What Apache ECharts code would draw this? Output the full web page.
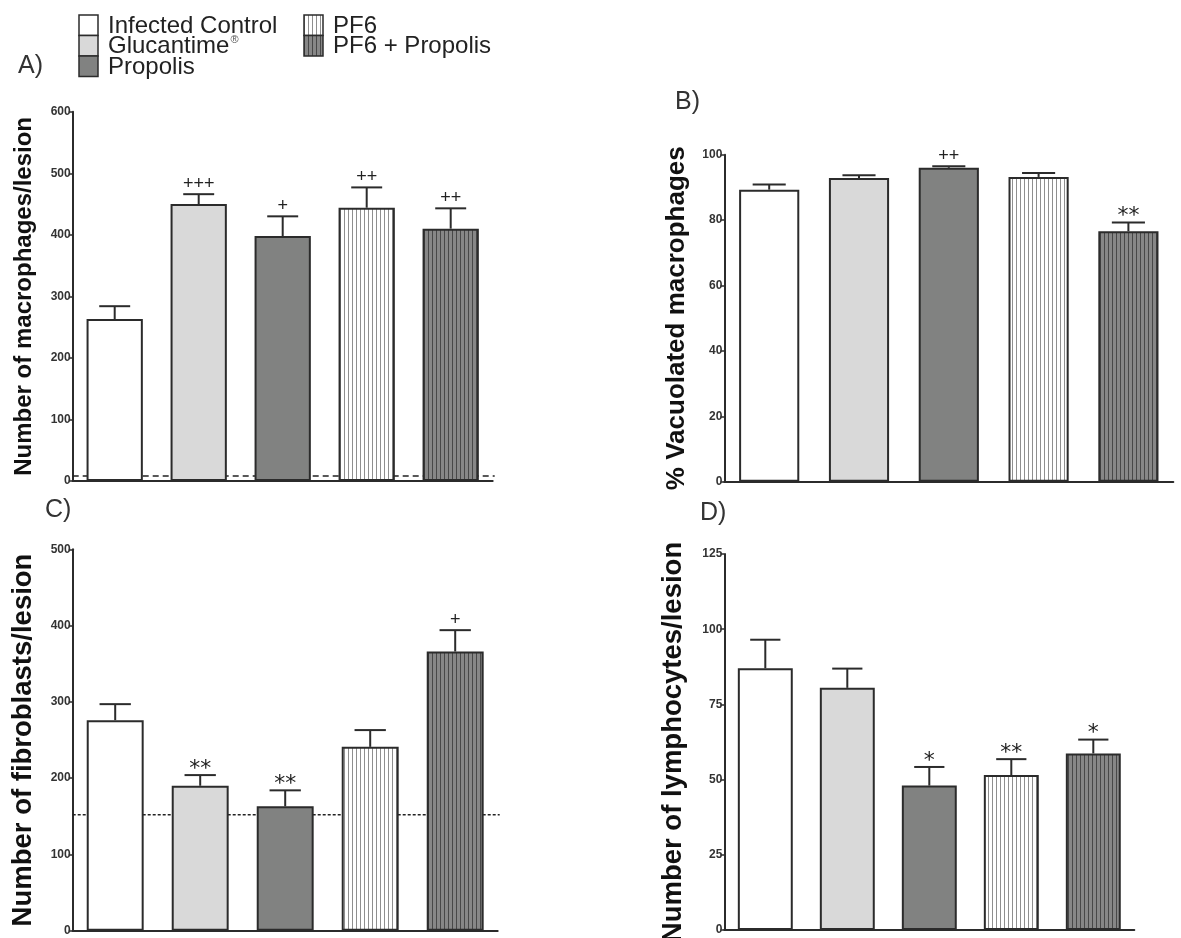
<!DOCTYPE html>
<html>
<head>
<meta charset="utf-8">
<script src="https://cdn.jsdelivr.net/npm/echarts@6/dist/echarts.min.js"></script>
<style>
html,body{margin:0;padding:0;background:#fff;}
#chart{width:1181px;height:938px;}
</style>
</head>
<body>
<div id="chart"></div>
<script>
// ---------- data ----------
const groups = ['Infected Control', 'Glucantime®', 'Propolis', 'PF6', 'PF6 + Propolis'];

const macroMean = [263, 450, 398, 444, 410];
const macroSem  = [21, 16, 32, 33, 33];
const macroSig  = ['', '+++', '+', '++', '++'];
const macroRef  = 8;

const vacMean = [89.3, 92.9, 96.0, 93.2, 76.6];
const vacSem  = [1.6, 0.8, 0.5, 1.2, 2.7];
const vacSig  = ['', '', '++', '', '**'];

const fibroMean = [276, 190, 163, 241, 366];
const fibroSem  = [21, 14, 21, 22, 28];
const fibroSig  = ['', '**', '**', '', '+'];
const fibroRef  = 152;

const lymphMean = [87.0, 80.5, 48.0, 51.5, 58.7];
const lymphSem  = [9.5, 6.4, 6.2, 5.3, 4.6];
const lymphSig  = ['', '', '*', '**', '*'];

const axisMax      = [600, 100, 500, 125];
const axisInterval = [100, 20, 100, 25];
const axisTitles   = ['Number of macrophages/lesion', '% Vacuolated macrophages',
                      'Number of fibroblasts/lesion', 'Number of lymphocytes/lesion'];
const panelLabels  = ['A)', 'B)', 'C)', 'D)'];

// ---------- styles ----------
const FONT = "'Liberation Sans', Arial, sans-serif";
const INK = '#2b2b2b';

function stripe(bg, line, period, lw) {
  const c = document.createElement('canvas');
  c.width = period; c.height = 8;
  const g = c.getContext('2d');
  g.fillStyle = bg; g.fillRect(0, 0, period, 8);
  g.fillStyle = line; g.fillRect(0, 0, lw, 8);
  return { image: c, repeat: 'repeat' };
}
const fills = [
  '#ffffff',
  '#d9d9d9',
  '#818281',
  stripe('#ffffff', '#8f8f8f', 4, 1),
  stripe('#878787', '#484848', 4, 1)
];

const panels = [
  { mean: macroMean, sem: macroSem, sig: macroSig, ref: macroRef, dash: [6, 4],
    grid: { left: 72.7, top: 111.7, width: 420, height: 369.3 }, nameSize: 24, nameGap: 36 },
  { mean: vacMean, sem: vacSem, sig: vacSig, ref: null,
    grid: { left: 724.3, top: 154.7, width: 449, height: 327 }, nameSize: 26, nameGap: 34 },
  { mean: fibroMean, sem: fibroSem, sig: fibroSig, ref: fibroRef, dash: [3, 2],
    grid: { left: 72.7, top: 549.3, width: 425, height: 381.4 }, nameSize: 27.5, nameGap: 35 },
  { mean: lymphMean, sem: lymphSem, sig: lymphSig, ref: null,
    grid: { left: 724.3, top: 554, width: 410, height: 376 }, nameSize: 27.5, nameGap: 37 }
];
const labelPos = [[18, 67], [675, 103], [45, 511], [700, 514]];

const grid = [], xAxis = [], yAxis = [], series = [];
panels.forEach((p, k) => {
  grid.push(Object.assign({ containLabel: false, outerBoundsMode: 'none' }, p.grid));
  xAxis.push({
    type: 'category', gridIndex: k, data: groups,
    axisLine: { lineStyle: { color: INK, width: 2 } },
    axisTick: { show: false }, axisLabel: { show: false }, splitLine: { show: false }
  });
  yAxis.push({
    type: 'value', gridIndex: k, min: 0, max: axisMax[k], interval: axisInterval[k],
    name: axisTitles[k], nameLocation: 'middle', nameGap: p.nameGap,
    nameTextStyle: { fontFamily: FONT, fontWeight: 'bold', fontSize: p.nameSize, color: '#111' },
    axisLine: { show: true, lineStyle: { color: INK, width: 2 } },
    axisTick: { show: true, length: 4, lineStyle: { color: INK, width: 1.5 } },
    axisLabel: { fontFamily: FONT, fontWeight: 'bold', fontSize: 12, color: '#333', margin: 2 },
    splitLine: { show: false }
  });
  if (p.ref !== null) {
    const dash = p.dash;
    series.push({
      type: 'custom', xAxisIndex: k, yAxisIndex: k, z: 1, silent: true,
      data: [[0, p.ref]],
      renderItem: function (params, api) {
        const cs = params.coordSys;
        const y = api.coord([0, api.value(1)])[1];
        return { type: 'line', shape: { x1: cs.x, y1: y, x2: cs.x + cs.width + 2, y2: y },
                 style: { stroke: '#222', lineWidth: 1.5, lineDash: dash } };
      }
    });
  }
  series.push({
    type: 'bar', xAxisIndex: k, yAxisIndex: k, z: 2, barWidth: '67%', silent: true,
    data: p.mean.map((v, i) => ({ value: v, itemStyle: { color: fills[i] } })),
    itemStyle: { borderColor: INK, borderWidth: 2 }
  });
  const sig = p.sig;
  series.push({
    type: 'custom', xAxisIndex: k, yAxisIndex: k, z: 3, silent: true, clip: false,
    data: p.mean.map((v, i) => [i, v, v + p.sem[i]]),
    renderItem: function (params, api) {
      const i = api.value(0);
      const p0 = api.coord([i, api.value(1)]);
      const p1 = api.coord([i, api.value(2)]);
      const bw = api.size([1, 0])[0] * 0.67;
      const hw = bw * 0.55 / 2;
      const children = [
        { type: 'line', shape: { x1: p0[0], y1: p0[1], x2: p1[0], y2: p1[1] },
          style: { stroke: INK, lineWidth: 2 } },
        { type: 'line', shape: { x1: p1[0] - hw, y1: p1[1], x2: p1[0] + hw, y2: p1[1] },
          style: { stroke: INK, lineWidth: 2 } }
      ];
      const t = sig[params.dataIndex];
      if (t) {
        const star = t.indexOf('*') >= 0;
        children.push({
          type: 'text',
          style: {
            text: t, x: p1[0], y: star ? p1[1] - 6 : p1[1] - 10,
            align: 'center', verticalAlign: 'middle',
            fontFamily: star ? "'DejaVu Sans', sans-serif" : FONT,
            fontSize: star ? 22 : 18, fill: '#222'
          }
        });
      }
      return { type: 'group', children: children };
    }
  });
});

// ---------- graphic: panel labels & legend ----------
const graphic = [];
panelLabels.forEach((t, k) => {
  graphic.push({ type: 'text', left: labelPos[k][0], top: labelPos[k][1] - 13,
    style: { text: t, fontFamily: FONT, fontSize: 25, fill: '#333' } });
});
const legendCols = [{ x: 79, start: 0, n: 3 }, { x: 304, start: 3, n: 2 }];
const rowH = 20.5, legTop = 15;
legendCols.forEach(col => {
  for (let r = 0; r < col.n; r++) {
    const gi = col.start + r;
    graphic.push({
      type: 'rect', x: col.x, y: legTop + r * rowH,
      shape: { width: 19, height: rowH },
      style: { fill: fills[gi], stroke: INK, lineWidth: 1.5 }
    });
    const name = groups[gi];
    const isReg = name.endsWith('®');
    graphic.push({
      type: 'text', x: col.x + 29, y: legTop + r * rowH + rowH / 2 + 1,
      style: {
        text: isReg ? name.slice(0, -1) + '{sup|®}' : name,
        fontFamily: FONT, fontSize: 24, fill: '#222', verticalAlign: 'middle',
        rich: { sup: { fontSize: 11, fontFamily: FONT, fill: '#555', verticalAlign: 'top', padding: [0, 0, 8, 1] } }
      }
    });
  }
});

const chart = echarts.init(document.getElementById('chart'), null, { renderer: 'canvas' });
chart.setOption({
  backgroundColor: '#ffffff',
  animation: false,
  grid: grid, xAxis: xAxis, yAxis: yAxis, series: series, graphic: graphic
});
</script>
</body>
</html>
